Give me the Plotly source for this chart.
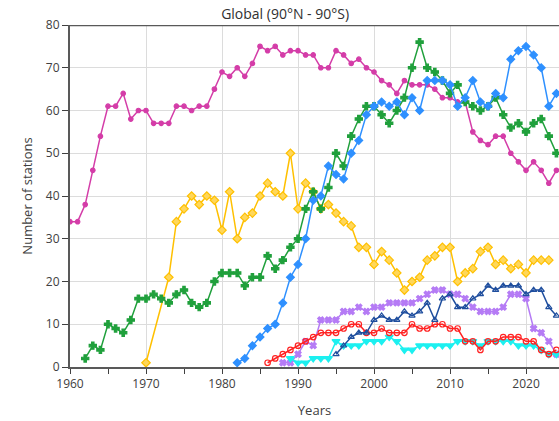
import plotly.graph_objects as go

years_magenta = list(range(1960, 2025))
magenta = [34, 34, 38, 46, 54, 61, 61, 64, 58, 60, 60, 57, 57, 57, 61, 61, 60, 61, 61, 65,
           69, 68, 70, 68, 71, 75, 74, 75, 73, 74, 74, 73, 73, 70, 70, 74, 73, 71, 72, 70,
           69, 67, 66, 64, 67, 66, 66, 66, 65, 63, 63, 62, 62, 55, 53, 52, 54, 54, 50, 48,
           46, 48, 46, 43, 46]

years_yellow = list(range(1970, 2024))
yellow = [1, None, None, 21, 34, 37, 40, 38, 40, 39, 32, 41, 30, 35, 36, 40, 43, 41, 40, 50,
          37, 43, 41, 37, 38, 36, 34, 33, 28, 28, 24, 27, 25, 22, 18, 20, 21, 25, 26, 28,
          28, 20, 22, 23, 27, 28, 24, 25, 23, 24, 22, 25, 25, 25]

years_green = list(range(1962, 2025))
green = [2, 5, 4, 10, 9, 8, 11, 16, 16, 17, 16, 15, 17, 18, 15, 14, 15, 20, 22, 22,
         22, 19, 21, 21, 26, 23, 25, 28, 30, 37, 41, 37, 42, 50, 47, 54, 58, 61, 61, 59,
         57, 60, 63, 70, 76, 70, 69, 67, 64, 66, 62, 61, 60, 61, 63, 59, 56, 57, 55, 57,
         58, 54, 50]

years_blue = list(range(1982, 2025))
blue = [1, 2, 5, 7, 9, 10, 15, 21, 24, 30, 39, 40, 47, 45, 44, 50, 53, 59, 61, 62,
        61, 62, 59, 63, 60, 67, 67, 67, 66, 61, 63, 67, 62, 61, 64, 63, 72, 74, 75, 73,
        70, 61, 64]

years_navy = list(range(1995, 2025))
navy = [3, 5, 7, 8, 8, 11, 12, 11, 11, 13, 12, 13, 15, 11, 16, 17, 14, 14, 16, 17,
        19, 18, 19, 19, 19, 17, 18, 18, 14, 12]

years_violet = list(range(1988, 2025))
violet = [1, 1, 3, 6, 5, 11, 11, 11, 13, 13, 14, 13, 14, 14, 15, 15, 15, 15, 16, 17,
          18, 18, 17, 17, 16, 14, 13, 13, 13, 14, 17, 17, 16, 9, 8, 6, 3]

years_red = list(range(1986, 2025))
red = [1, 2, 3, 4, 5, 6, 7, 8, 8, 8, 9, 10, 10, 8, 8, 9, 8, 8, 8, 10,
       9, 9, 10, 10, 9, 9, 6, 6, 4, 6, 6, 7, 7, 7, 6, 6, 4, 3, 4]

years_cyan = list(range(1989, 2025))
cyan = [2, 1, 1, 2, 2, 2, 6, 5, 5, 5, 6, 6, 6, 7, 6, 4, 4, 5, 5, 5,
        5, 5, 6, 6, 6, 5, 6, 6, 6, 6, 5, 5, 5, 4, 3, 3]

x_tick_vals = [1960, 1970, 1980, 1990, 2000, 2010, 2020]
y_tick_vals = [0, 10, 20, 30, 40, 50, 60, 70, 80]

fig = go.Figure()

def add(x, y, color, symbol, size, fill=None, lw=1.5, mlw=1.2):
    fig.add_trace(go.Scatter(
        x=x, y=y, mode="lines+markers", connectgaps=True,
        line=dict(color=color, width=lw),
        marker=dict(symbol=symbol, size=size, color=fill or color,
                    line=dict(color=color, width=mlw)),
        showlegend=False, cliponaxis=True))

add(years_magenta, magenta, "#D43DA8", "circle", 4.5)
add(years_yellow, yellow, "#FFC000", "diamond", 6.5, fill="#FFD75A")
add(years_green, green, "#20A03C", "cross", 6)
add(years_blue, blue, "#2E90FF", "diamond", 6)
add(years_violet, violet, "#B57BF5", "x", 5.5)
add(years_cyan, cyan, "#1CF0F0", "triangle-down", 7)
add(years_red, red, "#FF2222", "circle-open", 5.5)
add(years_navy, navy, "#1F4E9E", "triangle-up-open", 5.5)

fig.add_shape(type="line", xref="paper", yref="y", x0=0, x1=1, y0=80, y1=80,
              line=dict(color="#595959", width=2.5), layer="above")

fig.update_layout(
    width=559, height=421,
    margin=dict(l=70, r=0, t=25, b=54, autoexpand=False),
    paper_bgcolor="white", plot_bgcolor="white",
    font=dict(family="Open Sans", size=12, color="#404040"),
    title=dict(text="Global (90°N - 90°S)", x=0.51, xanchor="center",
               y=0.967, yanchor="middle", font=dict(size=14, color="#303030"),
               automargin=False),
)
fig.update_xaxes(
    range=[1960, 2024.34], tickvals=x_tick_vals, automargin=False,
    showgrid=True, gridcolor="#DCDCDC", gridwidth=1,
    showline=True, linecolor="#595959", linewidth=2,
    ticks="outside", ticklen=5, tickcolor="#404040",
    minor=dict(dtick=5, ticks="outside", ticklen=5, tickcolor="#404040", showgrid=False),
    title=dict(text="Years", font=dict(size=13, color="#404040"), standoff=14),
    zeroline=False,
)
fig.update_yaxes(
    range=[0, 80], tickvals=y_tick_vals, automargin=False,
    showgrid=True, gridcolor="#DCDCDC", gridwidth=1,
    showline=True, linecolor="#595959", linewidth=2,
    ticks="outside", ticklen=6, tickcolor="#404040",
    title=dict(text="Number of stations", font=dict(size=13, color="#404040"), standoff=10),
    zeroline=False,
)

fig.write_html(
    "out.html",
    config={"displayModeBar": False},
    post_script="document.body.style.margin='0';document.body.style.overflow='hidden';",
)
